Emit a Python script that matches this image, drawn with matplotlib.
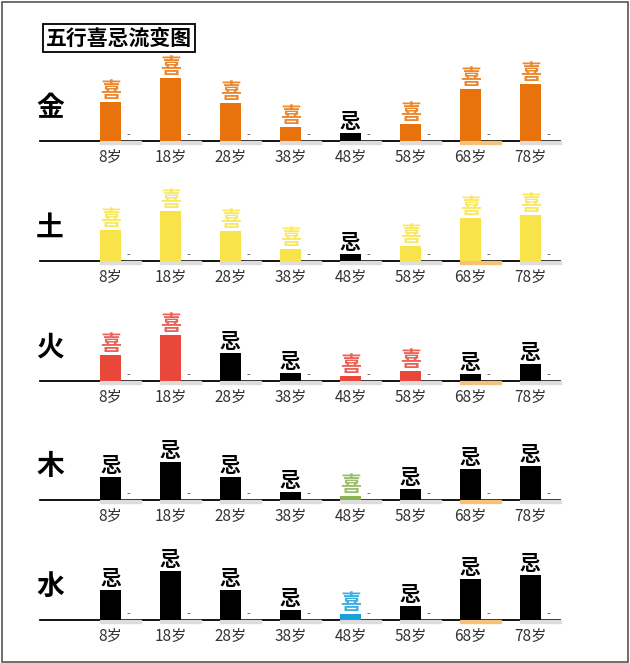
import matplotlib
matplotlib.use("Agg")
import matplotlib.pyplot as plt
from matplotlib.patches import Rectangle
from matplotlib import font_manager as fm

cjk = None
for f in fm.fontManager.ttflist:
    if "CJK" in f.name and ("SC" in f.name or cjk is None):
        cjk = f.name
        if "SC" in f.name:
            break
if cjk is None:
    import glob
    files = glob.glob("/usr/share/fonts/**/*CJK*", recursive=True)
    if files:
        fm.fontManager.addfont(files[0])
        cjk = fm.FontProperties(fname=files[0]).get_name()
plt.rcParams["font.family"] = [cjk or "Noto Sans CJK SC", "DejaVu Sans"]

title = "五行喜忌流变图"
elements = ["金", "土", "火", "木", "水"]
ages = ["8岁", "18岁", "28岁", "38岁", "48岁", "58岁", "68岁", "78岁"]
values = {
    "金": [39, 63, 38, 14, 8, 17, 52, 57],
    "土": [31, 50, 30, 12, 7, 15, 43, 46],
    "火": [26, 46, 28, 8, 5, 10, 7, 17],
    "木": [23, 38, 23, 8, 4, 11, 31, 34],
    "水": [30, 49, 30, 10, 6, 14, 41, 45],
}
status = {
    "金": ["喜", "喜", "喜", "喜", "忌", "喜", "喜", "喜"],
    "土": ["喜", "喜", "喜", "喜", "忌", "喜", "喜", "喜"],
    "火": ["喜", "喜", "忌", "忌", "喜", "喜", "忌", "忌"],
    "木": ["忌", "忌", "忌", "忌", "喜", "忌", "忌", "忌"],
    "水": ["忌", "忌", "忌", "忌", "喜", "忌", "忌", "忌"],
}
xi_colors = {
    "金": "#E8730C",
    "土": "#F8E44A",
    "火": "#E8473A",
    "木": "#8DB255",
    "水": "#1BA1DA",
}
strip_colors = ["#DDDDDD"] * 6 + ["#F5C27A", "#DDDDDD"]

W, H = 630, 663
fig = plt.figure(figsize=(W / 100, H / 100), dpi=100)
fig.patches.append(Rectangle((0.003, 0.002), 0.994, 0.995, transform=fig.transFigure,
                             fill=False, edgecolor="#555555", lw=1.2))

baselines = [141, 261, 381, 500, 620]
x0px, x1px, c0, sp = 40, 560, 110.5, 60
for r, el in enumerate(elements):
    b = baselines[r]
    ax = fig.add_axes([x0px / W, (H - b) / H, (x1px - x0px) / W, 80 / H])
    ax.set_xlim((x0px - c0) / sp, (x1px - c0) / sp)
    ax.set_ylim(0, 80)
    for s in ["top", "right", "left"]:
        ax.spines[s].set_visible(False)
    ax.spines["bottom"].set_linewidth(1.3)
    ax.set_yticks([])
    ax.set_xticks(range(len(ages)))
    ax.set_xticklabels(ages, fontsize=11, color="#333333")
    ax.tick_params(axis="x", length=0, pad=6)
    ax.patch.set_alpha(0)
    for i, v in enumerate(values[el]):
        st = status[el][i]
        col = xi_colors[el] if st == "喜" else "#000000"
        ax.add_patch(Rectangle((i - 0.175, -3), 0.683, 3, color=strip_colors[i],
                               clip_on=False, zorder=3))
        ax.bar(i - 0.175, v, width=0.35, align="edge", color=col, zorder=4)
        ax.text(i, v + 1, st, ha="center", va="bottom", fontsize=15, fontweight="bold",
                color=col, alpha=1 if st == "忌" else 0.85, clip_on=False)
        ax.text(i + 0.3, 6, "-", ha="center", va="center", fontsize=8, color="#555555")
    fig.text(50 / W, (H - (b - 33)) / H, el, ha="center", va="center",
             fontsize=20, fontweight="bold")

fig.text(46 / W, (H - 38) / H, title, ha="left", va="center", fontsize=15, fontweight="bold",
         bbox=dict(boxstyle="square,pad=0.15", fc="white", ec="black", lw=1.3))

fig.savefig("out.png", dpi=100)
